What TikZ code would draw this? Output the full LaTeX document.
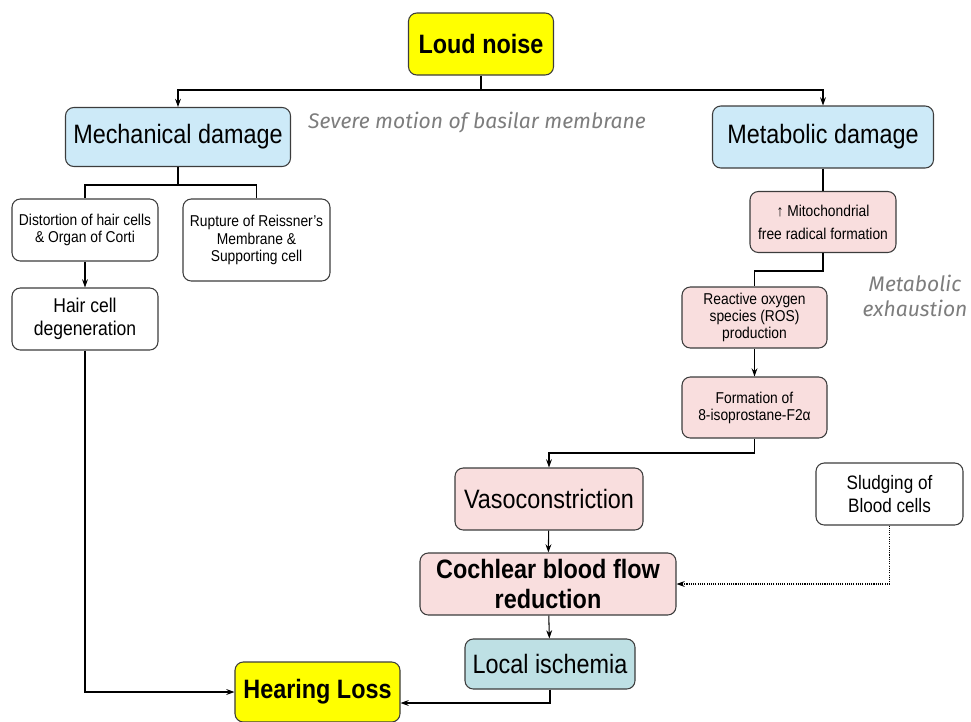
\documentclass[tikz,border=0pt]{standalone}
\usepackage{fontspec}
\setmainfont[FakeStretch=0.88]{Liberation Sans}
\newfontfamily\notefont{Fira Sans}
\usetikzlibrary{arrows.meta}

\definecolor{boxline}{RGB}{60,60,60}
\definecolor{noiseyellow}{RGB}{255,255,0}
\definecolor{mechblue}{RGB}{205,234,248}
\definecolor{metabpink}{RGB}{249,222,222}
\definecolor{ischteal}{RGB}{190,224,228}
\definecolor{notegray}{RGB}{125,125,125}

\newcommand\bigtxt{\fontsize{22.7}{25.5}\selectfont}
\newcommand\midtxt{\fontsize{17}{19.6}\selectfont}
\newcommand\smalltxt{\fontsize{13.4}{14.6}\selectfont}

\tikzset{
  box/.style={draw=boxline, line width=0.9pt, rounded corners=0.25cm,
    align=center, inner sep=0pt},
  keybox/.style={box, fill=noiseyellow, font=\bigtxt\bfseries},
  mechbox/.style={box, fill=mechblue, font=\bigtxt},
  pinkbox/.style={box, fill=metabpink},
  plainbox/.style={box, fill=white},
  link/.style={line width=0.9pt},
  arr/.style={link, -{Stealth[length=7pt,width=5pt]}},
  note/.style={text=notegray, font=\notefont\itshape\fontsize{18}{22}\selectfont, align=center}
}

\begin{document}
\begin{tikzpicture}[x=0.03cm,y=-0.03cm]
  \useasboundingbox (0,0) rectangle (971,722);

  \node[keybox, minimum width=4.35cm, minimum height=1.86cm] (loud) at (481,44) {Loud noise};
  \node[mechbox, minimum width=6.75cm, minimum height=1.77cm] (mech) at (178,137) {Mechanical damage};
  \node[mechbox, minimum width=6.63cm, minimum height=1.86cm] (metab) at (823,137) {Metabolic damage};
  \node[note] (motion) at (477,123) {Severe motion of basilar membrane};

  % mechanical side
  \node[plainbox, font=\smalltxt, minimum width=4.38cm, minimum height=1.86cm] (dist) at (85,230)
    {Distortion of hair cells\\\& Organ of Corti};
  \node[plainbox, font=\smalltxt, minimum width=4.41cm, minimum height=2.46cm] (rupt) at (256.5,240)
    {Rupture of Reissner's\\Membrane \&\\Supporting cell};
  \node[plainbox, font=\midtxt, minimum width=4.38cm, minimum height=1.86cm] (hair) at (85,319)
    {Hair cell\\degeneration};

  % metabolic side
  \node[pinkbox, font=\fontsize{13.4}{19.6}\selectfont, minimum width=4.38cm, minimum height=1.83cm] (mito) at (823,222)
    {↑ Mitochondrial\\free radical formation};
  \node[pinkbox, font=\smalltxt, minimum width=4.35cm, minimum height=1.83cm] (ros) at (754.5,317.5)
    {Reactive oxygen\\species (ROS)\\production};
  \node[pinkbox, font=\smalltxt, minimum width=4.35cm, minimum height=1.83cm] (form) at (754.5,407.5)
    {Formation of\\8-isoprostane-F2α};
  \node[note] (exhaust) at (915,296) {Metabolic\\exhaustion};

  \node[pinkbox, font=\bigtxt, minimum width=5.64cm, minimum height=1.86cm] (vaso) at (549,499) {Vasoconstriction};
  \node[plainbox, font=\fontsize{16.6}{19.6}\selectfont, minimum width=4.41cm, minimum height=1.86cm] (slud) at (889.5,494)
    {Sludging of\\Blood cells};
  \node[pinkbox, font=\bigtxt\bfseries, minimum width=7.68cm, minimum height=1.86cm] (coch) at (548,584)
    {Cochlear blood flow\\reduction};
  \node[box, fill=ischteal, font=\bigtxt, minimum width=5.1cm, minimum height=1.5cm] (isch) at (550,664) {Local ischemia};
  \node[keybox, minimum width=4.95cm, minimum height=1.8cm] (hear) at (317.5,692) {Hearing Loss};

  \coordinate (split) at (481,90);
  \coordinate (mechsplit) at (178,185);
  \coordinate (mitobend) at (823,271);
  \coordinate (formbend) at (754.5,453);

  \draw[link] (loud) -- (split);
  \draw[arr] (split) -| (mech);
  \draw[arr] (split) -| (metab);

  \draw[link] (mech) -- (mechsplit);
  \draw[link] (mechsplit) -| (dist);
  \draw[link] (mechsplit) -| (rupt);
  \draw[arr] (dist) -- (hair);
  \draw[arr] (hair.south) |- (hear.west);

  \draw[link] (metab) -- (mito);
  \draw[link] (mito) -- (mitobend) -| (ros);
  \draw[arr] (ros) -- (form);
  \draw[link] (form) -- (formbend);
  \draw[arr] (formbend) -| (vaso);
  \draw[arr] (vaso) -- (coch);
  \draw[arr, densely dotted] (slud.south) |- (coch.east);
  \draw[arr] (coch) -- (isch);
  \draw[arr] (isch.south) |- ([yshift=-0.33cm]hear.east);
\end{tikzpicture}
\end{document}
